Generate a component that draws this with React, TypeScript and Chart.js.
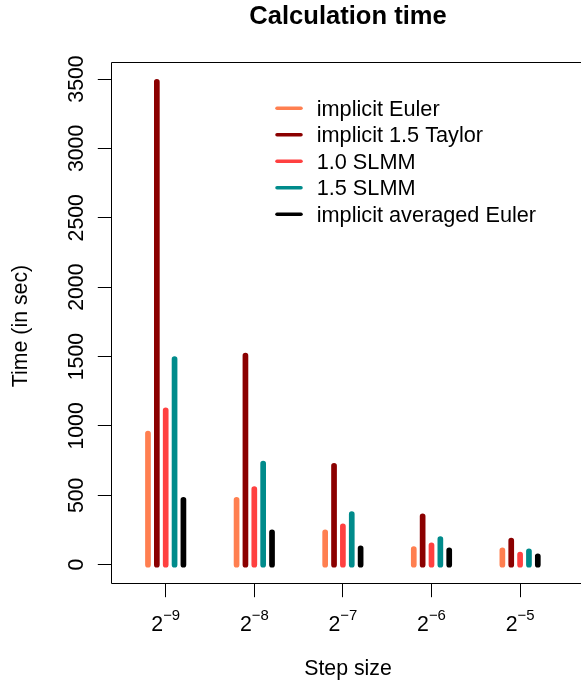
import { useEffect, useRef } from "react";
import { Chart, registerables } from "chart.js";

Chart.register(...registerables);

// Step sizes are powers of two; these are the exponents shown on the x axis.
const stepExponents = ["\u22129", "\u22128", "\u22127", "\u22126", "\u22125"];

// Calculation time in seconds for each method, one value per step size.
const implicitEuler = [945, 468, 233, 113, 104];
const implicitTaylor15 = [3480, 1506, 713, 349, 173];
const slmm10 = [1113, 545, 277, 140, 72];
const slmm15 = [1482, 728, 365, 185, 97];
const implicitAveragedEuler = [468, 233, 118, 104, 61];

const seriesNames = [
  "implicit Euler",
  "implicit 1.5 Taylor",
  "1.0 SLMM",
  "1.5 SLMM",
  "implicit averaged Euler",
];
const seriesValues = [implicitEuler, implicitTaylor15, slmm10, slmm15, implicitAveragedEuler];
const seriesColors = ["#FF7F50", "#8B0000", "#FF4040", "#008B8B", "#000000"];

const yTicks = [0, 500, 1000, 1500, 2000, 2500, 3000, 3500];

const FONT = "'Liberation Sans', Arial, Helvetica, sans-serif";
const BASE = 21.3;

// Horizontal offset of each method's stem within a step-size group (x units).
const groupOffsets = [-0.2, -0.1, 0, 0.1, 0.2];

function stems(values: number[], offset: number) {
  const pts: { x: number; y: number | null }[] = [];
  values.forEach((v, i) => {
    const x = i + 1 + offset;
    pts.push({ x, y: 0 }, { x, y: v }, { x, y: null });
  });
  return pts;
}

const framePlugin = {
  id: "rFrame",
  afterDraw(chart: any) {
    const { ctx, chartArea, scales } = chart;
    const xs = scales.x;
    const ys = scales.y;
    const crisp = (v: number) => Math.floor(v) + 0.5;
    const left = crisp(chartArea.left);
    const top = crisp(chartArea.top);
    const bottom = crisp(chartArea.bottom);
    const farRight = chart.width + 5;
    const tick = 13.7;

    ctx.save();
    ctx.strokeStyle = "#000";
    ctx.lineWidth = 1;
    // plot frame: top, left and bottom sides (the right side lies beyond the page)
    ctx.beginPath();
    ctx.moveTo(farRight, top);
    ctx.lineTo(left, top);
    ctx.moveTo(left, top);
    ctx.lineTo(left, bottom);
    ctx.moveTo(left, bottom);
    ctx.lineTo(farRight, bottom);
    ctx.stroke();

    // y axis ticks and rotated labels
    ctx.fillStyle = "#000";
    ctx.font = `${BASE}px ${FONT}`;
    yTicks.forEach((t) => {
      const y = ys.getPixelForValue(t);
      ctx.beginPath();
      ctx.moveTo(left - tick, crisp(y));
      ctx.lineTo(left, crisp(y));
      ctx.stroke();
      ctx.save();
      ctx.translate(chartArea.left - 28, y);
      ctx.rotate(-Math.PI / 2);
      ctx.textAlign = "center";
      ctx.textBaseline = "alphabetic";
      ctx.fillText(String(t), 0, 0);
      ctx.restore();
    });

    // x axis ticks and 2^k labels
    stepExponents.forEach((exp, i) => {
      const x = xs.getPixelForValue(i + 1);
      ctx.beginPath();
      ctx.moveTo(crisp(x), bottom);
      ctx.lineTo(crisp(x), bottom + tick);
      ctx.stroke();
      ctx.font = `${BASE}px ${FONT}`;
      const wBase = ctx.measureText("2").width;
      ctx.font = `${BASE * 0.7}px ${FONT}`;
      const wSup = ctx.measureText(exp).width;
      const start = x - (wBase + wSup) / 2;
      ctx.textAlign = "left";
      ctx.textBaseline = "alphabetic";
      ctx.font = `${BASE}px ${FONT}`;
      ctx.fillText("2", start, 631);
      ctx.font = `${BASE * 0.7}px ${FONT}`;
      ctx.fillText(exp, start + wBase, 620);
    });

    const cx = (chartArea.left + chartArea.right) / 2;
    const cy = (chartArea.top + chartArea.bottom) / 2;

    // titles
    ctx.textAlign = "center";
    ctx.textBaseline = "alphabetic";
    ctx.font = `bold ${BASE * 1.2}px ${FONT}`;
    ctx.fillText("Calculation time", cx, 24);
    ctx.font = `${BASE}px ${FONT}`;
    ctx.fillText("Step size", cx, 675);
    ctx.save();
    ctx.translate(27, cy + 3);
    ctx.rotate(-Math.PI / 2);
    ctx.fillText("Time (in sec)", 0, 0);
    ctx.restore();

    // legend
    const rowY0 = 108.3;
    const rowGap = 26.5;
    ctx.lineCap = "round";
    ctx.lineWidth = 3.5;
    chart.data.datasets.forEach((ds: any, i: number) => {
      const y = rowY0 + i * rowGap;
      ctx.strokeStyle = ds.borderColor;
      ctx.beginPath();
      ctx.moveTo(277, y);
      ctx.lineTo(301, y);
      ctx.stroke();
      ctx.fillStyle = "#000";
      ctx.font = `21.7px ${FONT}`;
      ctx.textAlign = "left";
      ctx.textBaseline = "alphabetic";
      ctx.fillText(ds.label, 316.7, y + 7.6);
    });
    ctx.restore();
  },
};

export default function App() {
  const canvasRef = useRef<HTMLCanvasElement | null>(null);

  useEffect(() => {
    document.body.style.margin = "0";
    document.body.style.overflow = "hidden";
    const canvas = canvasRef.current;
    if (!canvas) return;
    const chart = new Chart(canvas, {
      type: "line",
      data: {
        datasets: seriesValues.map((vals, i) => ({
          label: seriesNames[i],
          data: stems(vals, groupOffsets[i]),
          borderColor: seriesColors[i],
          backgroundColor: seriesColors[i],
          borderWidth: 5.7,
          borderCapStyle: "round" as const,
          borderJoinStyle: "round" as const,
          pointRadius: 0,
          pointHoverRadius: 0,
          tension: 0,
          spanGaps: false,
          fill: false,
        })),
      },
      options: {
        animation: false,
        responsive: false,
        devicePixelRatio: 1,
        events: [],
        // the canvas is wider than the page so the plot region can run past its right edge
        layout: { padding: { left: 111, right: 15, top: 62.3, bottom: 108.3 } },
        scales: {
          x: { type: "linear", min: 0.3826, max: 5.7326, display: false },
          y: { type: "linear", min: -136.9, max: 3620.4, display: false },
        },
        plugins: {
          legend: { display: false },
          tooltip: { enabled: false },
          title: { display: false },
        },
      },
      plugins: [framePlugin],
    });
    return () => chart.destroy();
  }, []);

  return (
    <div
      style={{
        position: "fixed",
        left: 0,
        top: 0,
        width: 581,
        height: 692,
        overflow: "hidden",
        background: "#fff",
      }}
    >
      <canvas ref={canvasRef} width={600} height={692} style={{ width: 600, height: 692, display: "block" }} />
    </div>
  );
}
